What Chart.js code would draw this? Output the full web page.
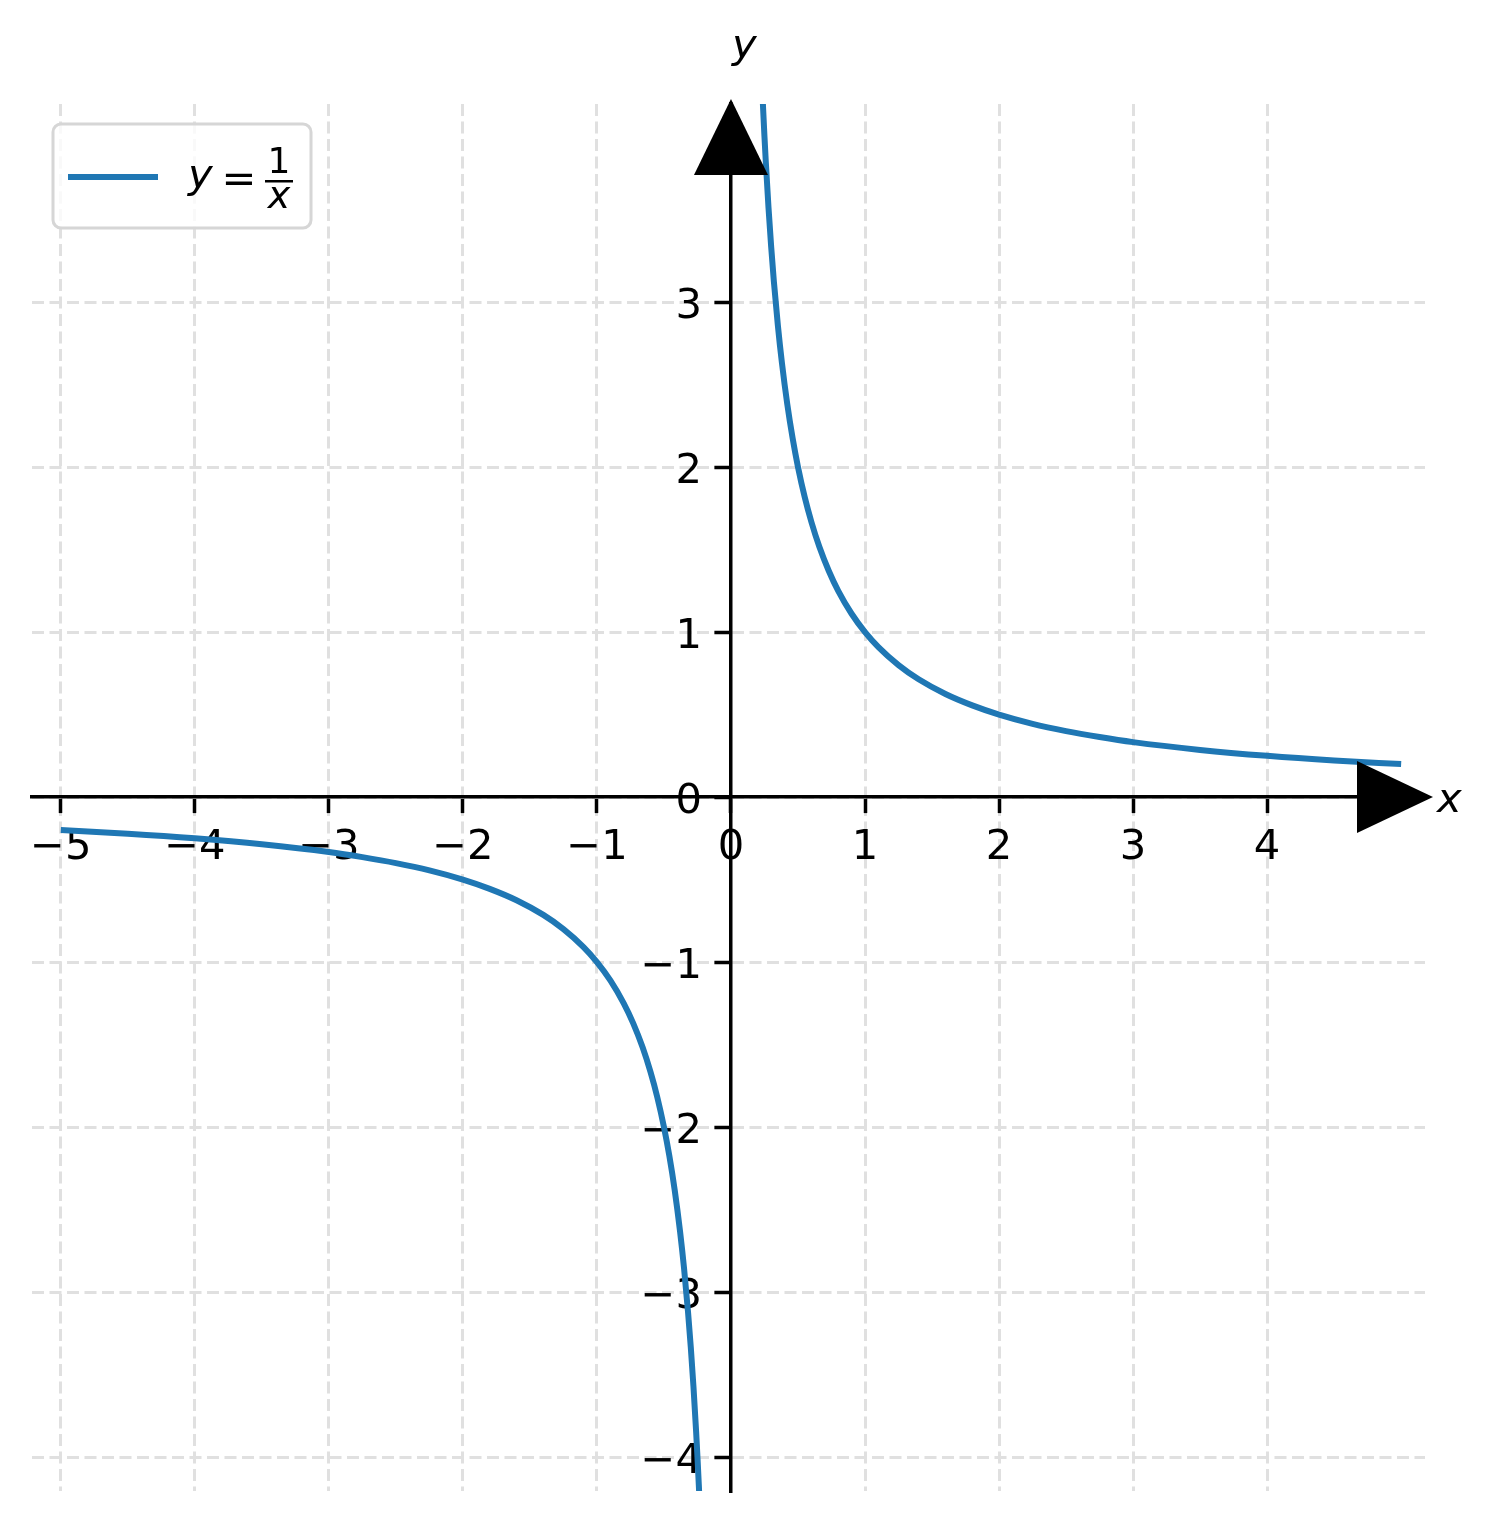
<!DOCTYPE html>
<html lang="en">
<head>
<meta charset="UTF-8">
<title>y = 1/x</title>
<script src="https://cdn.jsdelivr.net/npm/chart.js"></script>
<style>
  html, body { margin: 0; padding: 0; background: #fff; }
  #wrap { width: 1493px; height: 1520px; }
</style>
</head>
<body>
<div id="wrap"><canvas id="graph" width="1493" height="1520"></canvas></div>
<script>
// values, right branch (x > 0)
const xRight = [0.23, 0.24, 0.25, 0.26, 0.28, 0.3, 0.32, 0.35, 0.38, 0.42, 0.46, 0.5, 0.55, 0.6, 0.66, 0.73, 0.8, 0.9, 1.0, 1.1, 1.25, 1.4, 1.6, 1.8, 2.0, 2.25, 2.5, 2.75, 3.0, 3.5, 4.0, 4.5, 5.0];
const yRight = [4.348, 4.167, 4.0, 3.846, 3.571, 3.333, 3.125, 2.857, 2.632, 2.381, 2.174, 2.0, 1.818, 1.667, 1.515, 1.370, 1.25, 1.111, 1.0, 0.909, 0.8, 0.714, 0.625, 0.556, 0.5, 0.444, 0.4, 0.364, 0.333, 0.286, 0.25, 0.222, 0.2];
// left branch (x < 0)
const xLeft = [-5.0, -4.5, -4.0, -3.5, -3.0, -2.75, -2.5, -2.25, -2.0, -1.8, -1.6, -1.4, -1.25, -1.1, -1.0, -0.9, -0.8, -0.73, -0.66, -0.6, -0.55, -0.5, -0.46, -0.42, -0.38, -0.35, -0.32, -0.3, -0.28, -0.26, -0.25, -0.24, -0.23];
const yLeft = [-0.2, -0.222, -0.25, -0.286, -0.333, -0.364, -0.4, -0.444, -0.5, -0.556, -0.625, -0.714, -0.8, -0.909, -1.0, -1.111, -1.25, -1.370, -1.515, -1.667, -1.818, -2.0, -2.174, -2.381, -2.632, -2.857, -3.125, -3.333, -3.571, -3.846, -4.0, -4.167, -4.348];

const xTicks = [-5, -4, -3, -2, -1, 0, 1, 2, 3, 4];
const yTicks = [-4, -3, -2, -1, 0, 1, 2, 3];
const xRange = [-5.215, 5.178];
const yRange = [-4.205, 4.2];
const seriesLabel = 'y = 1/x';

const BLUE = '#1f77b4';
const FONT = '"DejaVu Sans", "Liberation Sans", sans-serif';

function pts(xs, ys) {
    return xs.map((x, i) => ({ x: x, y: ys[i] }));
}

function tickText(v) {
    return String(v).replace('-', '\u2212');
}

// arrows, axis letters, y tick labels and the legend box with the fraction
const decor = {
    id: 'decor',
    beforeDatasetsDraw(chart) {
        // y tick labels left of the centred y axis (Chart.js puts them flush on the line)
        const ctx = chart.ctx;
        const x0 = chart.scales.x.getPixelForValue(0);
        ctx.save();
        ctx.fillStyle = '#000';
        ctx.font = '41.67px ' + FONT;
        ctx.textAlign = 'right';
        ctx.textBaseline = 'alphabetic';
        yTicks.forEach(v => {
            const py = chart.scales.y.getPixelForValue(v);
            ctx.fillText(tickText(v), x0 - 29, py + 15.5);
        });
        ctx.restore();
    },
    afterDatasetsDraw(chart) {
        const ctx = chart.ctx;
        const ca = chart.chartArea;
        const x0 = chart.scales.x.getPixelForValue(0);
        const y0 = chart.scales.y.getPixelForValue(0);
        ctx.save();
        ctx.fillStyle = '#000';

        // up arrow on y axis
        let tipY = ca.top - 5;
        ctx.beginPath();
        ctx.moveTo(x0, tipY);
        ctx.lineTo(x0 - 37, tipY + 76);
        ctx.lineTo(x0 + 37, tipY + 76);
        ctx.closePath();
        ctx.fill();

        // right arrow on x axis
        let tipX = ca.right + 8;
        ctx.beginPath();
        ctx.moveTo(tipX, y0);
        ctx.lineTo(tipX - 76, y0 - 36);
        ctx.lineTo(tipX - 76, y0 + 36);
        ctx.closePath();
        ctx.fill();

        ctx.font = 'italic 41.67px ' + FONT;
        ctx.textAlign = 'left';
        ctx.textBaseline = 'alphabetic';
        ctx.fillText('y', x0 + 1, 58);
        ctx.fillText('x', tipX + 4, y0 + 15);

        // legend
        const bx = ca.left + 21, by = ca.top + 20, bw = 258, bh = 104;
        ctx.beginPath();
        ctx.roundRect(bx, by, bw, bh, 8);
        ctx.fillStyle = 'rgba(255,255,255,0.8)';
        ctx.fill();
        ctx.lineWidth = 3;
        ctx.strokeStyle = '#d6d6d6';
        ctx.stroke();

        ctx.beginPath();
        ctx.moveTo(bx + 15, by + 53);
        ctx.lineTo(bx + 105, by + 53);
        ctx.lineWidth = 6;
        ctx.strokeStyle = BLUE;
        ctx.stroke();

        ctx.fillStyle = '#000';
        ctx.font = 'italic 41.67px ' + FONT;
        ctx.fillText('y', bx + 135, by + 64);
        ctx.font = '41.67px ' + FONT;
        ctx.textAlign = 'center';
        ctx.fillText('=', bx + 186, by + 68);
        const fx = bx + 226;
        ctx.font = '36px ' + FONT;
        ctx.fillText('1', fx, by + 49);
        ctx.font = 'italic 38px ' + FONT;
        ctx.fillText('x', fx, by + 84);
        ctx.fillRect(fx - 14, by + 56, 28, 2.5);
        ctx.restore();
    }
};

const gridDash = [12, 5.5];

new Chart(document.getElementById('graph'), {
    type: 'scatter',
    data: {
        datasets: [
            {
                label: seriesLabel,
                data: pts(xRight, yRight),
                showLine: true,
                borderColor: BLUE,
                borderWidth: 6,
                pointRadius: 0,
                cubicInterpolationMode: 'monotone'
            },
            {
                label: seriesLabel,
                data: pts(xLeft, yLeft),
                showLine: true,
                borderColor: BLUE,
                borderWidth: 6,
                pointRadius: 0,
                cubicInterpolationMode: 'monotone'
            }
        ]
    },
    options: {
        responsive: false,
        devicePixelRatio: 1,
        animation: false,
        layout: { padding: { left: 32, right: 68, top: 104, bottom: 29 } },
        plugins: {
            legend: { display: false },
            tooltip: { enabled: false }
        },
        scales: {
            x: {
                type: 'linear',
                position: { y: 0 },
                min: xRange[0],
                max: xRange[1],
                afterBuildTicks: (s) => { s.ticks = xTicks.map(v => ({ value: v })); },
                afterFit: (s) => { s.paddingLeft = 0; s.paddingRight = 0; },
                ticks: {
                    autoSkip: false,
                    maxRotation: 0,
                    padding: 11,
                    color: '#000',
                    z: -0.5,
                    font: { family: FONT, size: 41.67 },
                    callback: (v) => tickText(v)
                },
                grid: {
                    color: '#e0e0e0',
                    lineWidth: 3,
                    tickColor: '#000',
                    tickLength: 14.6,
                    tickWidth: 3.5
                },
                border: { color: '#000', width: 3.5, dash: gridDash }
            },
            y: {
                type: 'linear',
                position: { x: 0 },
                min: yRange[0],
                max: yRange[1],
                afterBuildTicks: (s) => { s.ticks = yTicks.map(v => ({ value: v })); },
                afterFit: (s) => { s.paddingTop = 0; s.paddingBottom = 0; },
                ticks: {
                    display: false
                },
                grid: {
                    color: '#e0e0e0',
                    lineWidth: 3,
                    tickColor: '#000',
                    tickLength: 14.6,
                    tickWidth: 3.5
                },
                border: { color: '#000', width: 3.5, dash: gridDash }
            }
        }
    },
    plugins: [decor]
});
</script>
</body>
</html>
